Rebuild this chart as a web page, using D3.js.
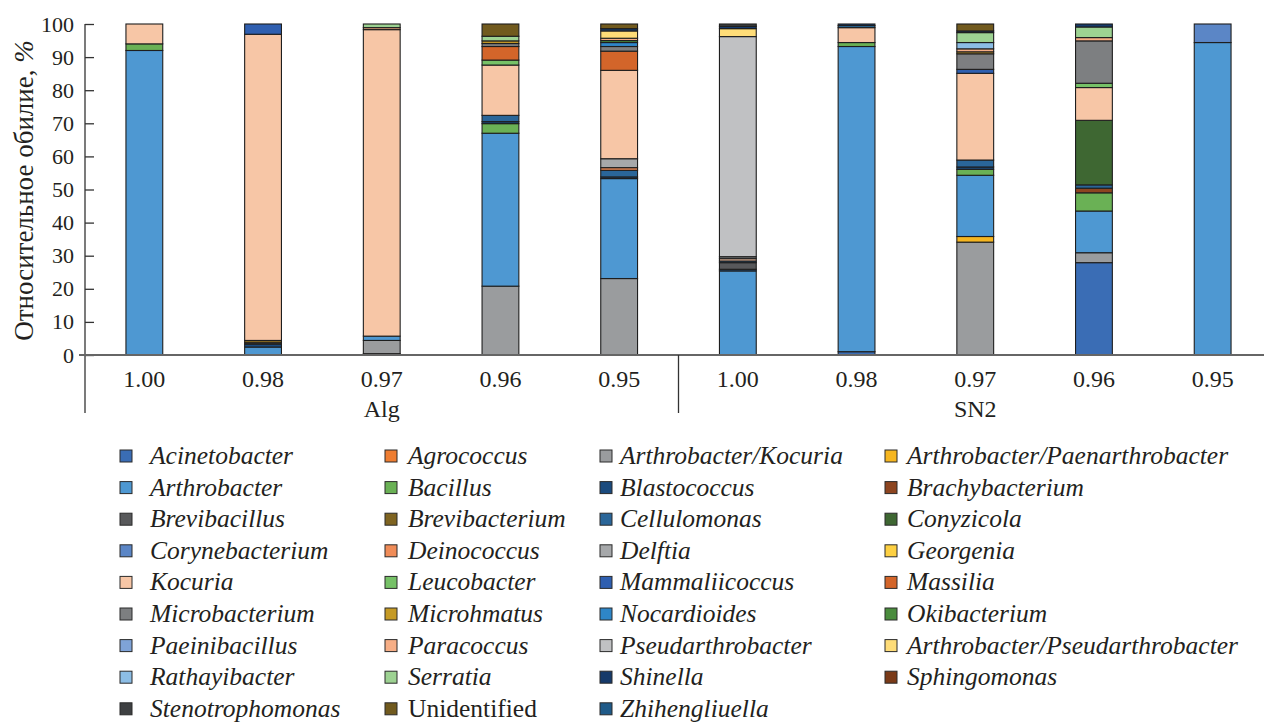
<!DOCTYPE html>
<html>
<head>
<meta charset="utf-8">
<script src="https://cdn.jsdelivr.net/npm/d3@7"></script>
<style>
  body { margin: 0; background: #fff; }
</style>
</head>
<body>
<svg id="chart" width="1264" height="725"></svg>
<script>
// Samples along the x axis (similarity threshold) and their group
const sampleLabels = ["1.00", "0.98", "0.97", "0.96", "0.95", "1.00", "0.98", "0.97", "0.96", "0.95"];
const sampleGroups = ["Alg", "Alg", "Alg", "Alg", "Alg", "SN2", "SN2", "SN2", "SN2", "SN2"];
const groupNames = ["Alg", "SN2"];
const yTicks = [0, 10, 20, 30, 40, 50, 60, 70, 80, 90, 100];

// Taxa in stacking order (bottom to top) and legend order
const taxa = [
  "Acinetobacter", "Agrococcus", "Arthrobacter/Kocuria", "Arthrobacter/Paenarthrobacter",
  "Arthrobacter", "Bacillus", "Blastococcus", "Brachybacterium",
  "Brevibacillus", "Brevibacterium", "Cellulomonas", "Conyzicola",
  "Corynebacterium", "Deinococcus", "Delftia", "Georgenia",
  "Kocuria", "Leucobacter", "Mammaliicoccus", "Massilia",
  "Microbacterium", "Microhmatus", "Nocardioides", "Okibacterium",
  "Paeinibacillus", "Paracoccus", "Pseudarthrobacter", "Arthrobacter/Pseudarthrobacter",
  "Rathayibacter", "Serratia", "Shinella", "Sphingomonas",
  "Stenotrophomonas", "Unidentified", "Zhihengliuella"
];
const taxonColors = [
  "#3a6db5", "#ee7d31", "#9a9c9e", "#f6b620",
  "#4e98d2", "#6ab155", "#1b4b7e", "#8d4520",
  "#58595b", "#7f6421", "#2a6699", "#3e6732",
  "#5b86c6", "#f08c58", "#a6a8aa", "#fdd042",
  "#f7c6a6", "#76c167", "#2f5fb0", "#d3652a",
  "#7d7f81", "#c59a25", "#2e86c8", "#4a8c3d",
  "#7fa3d8", "#f6ae86", "#c0c1c3", "#fedc78",
  "#8cbde5", "#9dd292", "#163a6a", "#7a3a18",
  "#3e4042", "#715a1e", "#1f5a88"
];

// Relative abundance (%) of each taxon per sample
const alg100 = [["Arthrobacter", 92], ["Bacillus", 2], ["Kocuria", 6]];
const alg098 = [["Arthrobacter", 2.4], ["Blastococcus", 0.9], ["Brevibacillus", 0.4],
  ["Brevibacterium", 0.7], ["Kocuria", 92.5], ["Mammaliicoccus", 3.1]];
const alg097 = [["Agrococcus", 0.4], ["Arthrobacter/Kocuria", 4.0], ["Arthrobacter", 1.3],
  ["Kocuria", 92.6], ["Paracoccus", 0.6], ["Serratia", 1.1]];
const alg096 = [["Arthrobacter/Kocuria", 20.8], ["Arthrobacter", 46.2], ["Bacillus", 2.9],
  ["Blastococcus", 0.6], ["Cellulomonas", 1.9], ["Kocuria", 15.2], ["Leucobacter", 1.5],
  ["Massilia", 4.1], ["Microbacterium", 0.9], ["Microhmatus", 0.8], ["Serratia", 1.4],
  ["Unidentified", 3.7]];
const alg095 = [["Arthrobacter/Kocuria", 23.1], ["Arthrobacter", 30.2], ["Blastococcus", 0.5],
  ["Cellulomonas", 2.0], ["Deinococcus", 0.8], ["Delftia", 2.7], ["Kocuria", 26.7],
  ["Massilia", 5.8], ["Microbacterium", 1.4], ["Nocardioides", 1.2], ["Okibacterium", 0.6],
  ["Paracoccus", 0.7], ["Arthrobacter/Pseudarthrobacter", 2.2], ["Shinella", 0.7],
  ["Unidentified", 1.4]];
const sn2100 = [["Arthrobacter", 25.4], ["Blastococcus", 0.5], ["Brevibacillus", 2.0],
  ["Cellulomonas", 0.5], ["Kocuria", 0.7], ["Microbacterium", 0.6], ["Pseudarthrobacter", 66.5],
  ["Arthrobacter/Pseudarthrobacter", 2.4], ["Shinella", 0.7], ["Stenotrophomonas", 0.7]];
const sn2098 = [["Acinetobacter", 1.0], ["Arthrobacter", 92.2], ["Bacillus", 1.2],
  ["Kocuria", 4.5], ["Nocardioides", 0.6], ["Shinella", 0.5]];
const sn2097 = [["Arthrobacter/Kocuria", 34.1], ["Arthrobacter/Paenarthrobacter", 1.7],
  ["Arthrobacter", 18.5], ["Bacillus", 1.8], ["Blastococcus", 0.7], ["Cellulomonas", 2.1],
  ["Kocuria", 26.2], ["Mammaliicoccus", 1.2], ["Microbacterium", 4.7], ["Microhmatus", 0.6],
  ["Paracoccus", 0.9], ["Rathayibacter", 1.9], ["Serratia", 3.0], ["Shinella", 0.5],
  ["Unidentified", 2.1]];
const sn2096 = [["Acinetobacter", 27.9], ["Arthrobacter/Kocuria", 3.0], ["Arthrobacter", 12.6],
  ["Bacillus", 5.5], ["Brachybacterium", 1.4], ["Cellulomonas", 1.0], ["Conyzicola", 19.5],
  ["Kocuria", 9.9], ["Leucobacter", 1.3], ["Microbacterium", 12.8], ["Paracoccus", 1.0],
  ["Serratia", 3.2], ["Shinella", 0.9]];
const sn2095 = [["Arthrobacter", 94.4], ["Corynebacterium", 5.6]];

const sampleCompositions = [alg100, alg098, alg097, alg096, alg095, sn2100, sn2098, sn2097, sn2096, sn2095];

// Wide table for d3.stack: one row per sample, one column per taxon
const rows = sampleCompositions.map((pairs, i) => {
  const row = { idx: i };
  taxa.forEach(t => { row[t] = 0; });
  pairs.forEach(([t, v]) => { row[t] = v; });
  return row;
});

// Serif face for all labels
const serifFont = "'Liberation Serif', 'Times New Roman', serif";
const textColor = "#231f20";

const svg = d3.select("#chart");
const plotLeft = 85, plotRight = 1272, plotTop = 24, plotBottom = 355, groupLineBottom = 413;

const x = d3.scaleBand()
  .domain(d3.range(sampleLabels.length))
  .range([plotLeft, plotRight])
  .paddingInner(0.69)
  .paddingOuter(0.345);
const step = x.step();

const y = d3.scaleLinear().domain([0, 100]).range([plotBottom, plotTop]);
const color = d3.scaleOrdinal().domain(taxa).range(taxonColors);

const series = d3.stack().keys(taxa)(rows);

// Stacked bars
const barLayer = svg.append("g");
series.forEach(s => {
  barLayer.append("g")
    .attr("fill", color(s.key))
    .selectAll("rect")
    .data(s.filter(d => d[1] - d[0] > 0))
    .join("rect")
    .attr("x", d => x(d.data.idx))
    .attr("width", x.bandwidth())
    .attr("y", d => y(d[1]))
    .attr("height", d => y(d[0]) - y(d[1]))
    .attr("stroke", "#1e1e1e")
    .attr("stroke-width", 1.1);
});

// Y axis with inward ticks
const yAxis = d3.axisLeft(y).tickValues(yTicks).tickSizeInner(-9).tickSizeOuter(0).tickPadding(11);
const yg = svg.append("g").attr("transform", `translate(${plotLeft},0)`).call(yAxis);
yg.select(".domain").remove();
yg.selectAll(".tick line").attr("stroke", "#333").attr("stroke-width", 1.3);
yg.selectAll(".tick text")
  .style("font-family", serifFont)
  .style("font-size", "22px")
  .attr("fill", textColor);

// Axis lines
svg.append("line").attr("x1", plotLeft).attr("x2", plotLeft).attr("y1", plotTop).attr("y2", groupLineBottom)
  .attr("stroke", "#333").attr("stroke-width", 1.3);
svg.append("line").attr("x1", plotLeft - 6).attr("x2", 1264).attr("y1", plotBottom).attr("y2", plotBottom)
  .attr("stroke", "#666").attr("stroke-width", 2);
// Separator between the two groups
const sepX = x(5) - step * 0.345;
svg.append("line")
  .attr("x1", sepX).attr("x2", sepX)
  .attr("y1", plotBottom).attr("y2", groupLineBottom)
  .attr("stroke", "#333").attr("stroke-width", 1.3);

// Category labels
svg.append("g").selectAll("text")
  .data(sampleLabels)
  .join("text")
  .attr("x", (d, i) => x(i) + x.bandwidth() / 2)
  .attr("y", 387)
  .attr("text-anchor", "middle")
  .attr("fill", textColor)
  .style("font-family", serifFont)
  .style("font-size", "24px")
  .text(d => d);

// Group labels
groupNames.forEach(g => {
  const idxs = d3.range(sampleGroups.length).filter(i => sampleGroups[i] === g);
  const cx = (x(idxs[0]) + x(idxs[idxs.length - 1]) + x.bandwidth()) / 2;
  svg.append("text")
    .attr("x", cx).attr("y", 417)
    .attr("text-anchor", "middle")
    .attr("fill", textColor)
    .style("font-family", serifFont)
    .style("font-size", "24px")
    .text(g);
});

// Y axis title
const yTitle = svg.append("text")
  .attr("transform", `translate(33,${(plotTop + plotBottom) / 2 + 1}) rotate(-90)`)
  .attr("text-anchor", "middle")
  .attr("fill", textColor)
  .style("font-family", serifFont)
  .style("font-size", "27px");
yTitle.append("tspan").text("Относительное обилие, ");
yTitle.append("tspan").style("font-style", "italic").text("%");

// Legend: four columns, row-major order
const legendColX = [120, 385, 600, 885];
const legendTextDx = [30, 23, 20, 22];
const legendRowY = 456, legendRowStep = 31.6;
const legend = svg.append("g");
taxa.forEach((t, i) => {
  const col = i % 4, row = Math.floor(i / 4);
  const cy = legendRowY + row * legendRowStep;
  const g = legend.append("g").attr("transform", `translate(${legendColX[col]},${cy})`);
  g.append("rect")
    .attr("x", 0).attr("y", -6).attr("width", 12).attr("height", 12)
    .attr("fill", color(t)).attr("stroke", "#2b2b2b").attr("stroke-width", 1);
  g.append("text")
    .attr("x", legendTextDx[col]).attr("y", 8)
    .attr("fill", textColor)
    .style("font-family", serifFont)
    .style("font-size", "25.5px")
    .style("font-style", t === "Unidentified" ? "normal" : "italic")
    .text(t);
});
</script>
</body>
</html>
